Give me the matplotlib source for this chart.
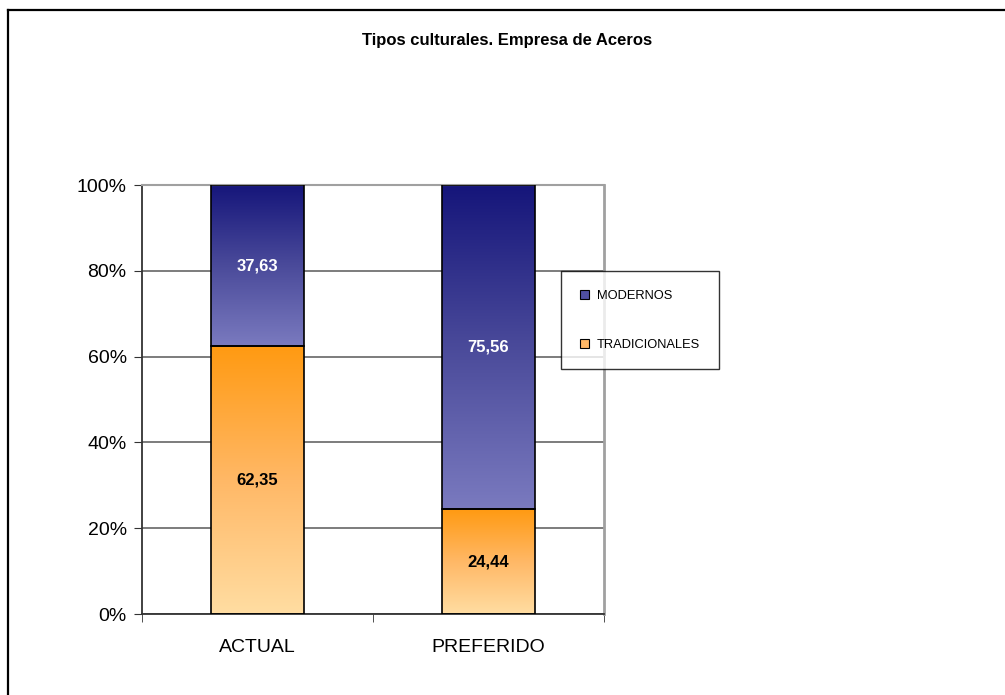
import numpy as np
import matplotlib.pyplot as plt
from matplotlib.colors import LinearSegmentedColormap
from matplotlib.patches import Rectangle
from matplotlib.lines import Line2D

plt.rcParams['font.family'] = ['Liberation Sans', 'DejaVu Sans']

# Data
categories = ["ACTUAL", "PREFERIDO"]
tradicionales = [62.35, 24.44]
modernos = [37.63, 75.56]
series_names = ["TRADICIONALES", "MODERNOS"]

# gradient colours (bottom -> top) for each series
grad_trad = LinearSegmentedColormap.from_list("trad", ["#FFDDA2", "#FFB866", "#FF9A12"])
grad_mod = LinearSegmentedColormap.from_list("mod", ["#7A7ABF", "#4A4A9A", "#15157A"])

fig = plt.figure(figsize=(10.05, 6.95), dpi=100)
ax = fig.add_axes([0.1413, 0.1165, 0.4597, 0.6173])

# outer frame (only top and left edges are visible)
fig.add_artist(Line2D([8/1005, 8/1005], [0, 1 - 10/695], transform=fig.transFigure,
                      color="black", lw=1.6))
fig.add_artist(Line2D([8/1005, 1], [1 - 10/695, 1 - 10/695], transform=fig.transFigure,
                      color="black", lw=1.6))

x = np.arange(len(categories))
width = 0.4
totals = np.array(tradicionales) + np.array(modernos)
trad_pct = np.array(tradicionales) / totals * 100
mod_pct = np.array(modernos) / totals * 100

grad = np.linspace(0, 1, 256).reshape(-1, 1)


def gradient_bar(xc, bottom, height, cmap):
    ax.imshow(grad, cmap=cmap, origin="lower", aspect="auto", interpolation="bicubic",
              extent=(xc - width/2, xc + width/2, bottom, bottom + height), zorder=2)
    ax.add_patch(Rectangle((xc - width/2, bottom), width, height, fill=False,
                           edgecolor="black", lw=1.2, zorder=3))


for i in range(len(categories)):
    gradient_bar(x[i], 0, trad_pct[i], grad_trad)
    gradient_bar(x[i], trad_pct[i], mod_pct[i], grad_mod)
    ax.text(x[i], trad_pct[i] / 2, f"{tradicionales[i]:.2f}".replace(".", ","),
            ha="center", va="center", fontsize=12, fontweight="bold", color="black", zorder=4)
    ax.text(x[i], trad_pct[i] + mod_pct[i] / 2, f"{modernos[i]:.2f}".replace(".", ","),
            ha="center", va="center", fontsize=12, fontweight="bold", color="white", zorder=4)

ax.set_xlim(-0.5, 1.5)
ax.set_ylim(0, 100)
ax.set_yticks(range(0, 101, 20))
ax.set_yticklabels([f"{v}%" for v in range(0, 101, 20)], fontsize=14)
ax.set_xticks(x)
ax.set_xticklabels(categories, fontsize=14)
ax.tick_params(axis="x", which="major", length=0, pad=18)
ax.set_xticks([-0.5, 0.5, 1.5], minor=True)
ax.tick_params(axis="x", which="minor", length=6, direction="out", color="#333333")
ax.tick_params(axis="y", length=6, direction="out", color="#333333", pad=5)

ax.grid(axis="y", color="#666666", lw=1.2, zorder=0)
ax.set_axisbelow(True)
for side in ["left", "bottom"]:
    ax.spines[side].set_color("#333333")
    ax.spines[side].set_linewidth(1.3)
ax.spines["right"].set_color("#A0A0A0")
ax.spines["right"].set_linewidth(2)
ax.spines["top"].set_color("#A0A0A0")
ax.spines["top"].set_linewidth(1.5)

fig.text(0.505, 1 - 40/695, "Tipos culturales. Empresa de Aceros", ha="center", va="center",
         fontsize=12, fontweight="bold")

handles = [Rectangle((0, 0), 1, 1, facecolor="#4F4FA0", edgecolor="black", lw=0.8),
           Rectangle((0, 0), 1, 1, facecolor="#FFB766", edgecolor="black", lw=0.8)]
leg = fig.legend(handles, ["MODERNOS", "TRADICIONALES"], loc="upper left",
                 bbox_to_anchor=(561/1005, 1 - 271/695), fontsize=9.3, frameon=True,
                 fancybox=False, edgecolor="black", borderpad=1.45, labelspacing=2.85,
                 handlelength=0.7, handleheight=0.7, handletextpad=0.6, borderaxespad=0)
leg.get_frame().set_linewidth(1.0)

fig.savefig("out.png", dpi=100, facecolor="white")
